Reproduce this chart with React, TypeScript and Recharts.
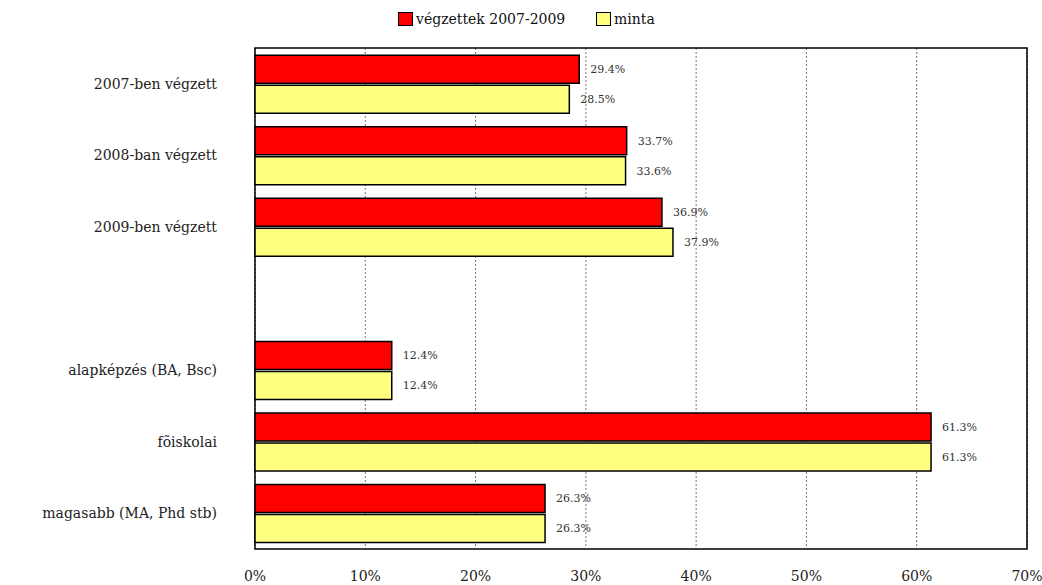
import { BarChart, Bar, XAxis, YAxis, CartesianGrid, LabelList, usePlotArea } from "recharts";

const categories = [
  "2007-ben végzett",
  "2008-ban végzett",
  "2009-ben végzett",
  "",
  "alapképzés (BA, Bsc)",
  "fõiskolai",
  "magasabb (MA, Phd stb)",
];
const vegzettek = [29.4, 33.7, 36.9, null, 12.4, 61.3, 26.3];
const minta = [28.5, 33.6, 37.9, null, 12.4, 61.3, 26.3];
const xTicks = [0, 10, 20, 30, 40, 50, 60, 70];

const FONT = "DejaVu Serif";

const data = categories.map((name, i) => ({ name, vegzettek: vegzettek[i], minta: minta[i] }));

const fmt = (v: any) => (v == null ? "" : `${Number(v).toFixed(1)}%`);

// solid frame round the plot area
function PlotFrame() {
  const area = usePlotArea();
  if (!area) return null;
  return <rect x={area.x} y={area.y} width={area.width} height={area.height} fill="none" stroke="#000" strokeWidth={1.5} />;
}

function LegendBox() {
  const items = [
    { label: "végzettek 2007-2009", color: "#ff0000", width: 198 },
    { label: "minta", color: "#ffff80", width: 100 },
  ];
  return (
    <div
      style={{
        position: "absolute",
        top: 9,
        left: 398,
        display: "flex",
        fontFamily: FONT,
        fontSize: 14,
        color: "#111",
        lineHeight: "20px",
      }}
    >
      {items.map((it) => (
        <div key={it.label} style={{ display: "flex", alignItems: "center", width: it.width }}>
          <span
            style={{
              display: "inline-block",
              width: 13,
              height: 12,
              background: it.color,
              border: "1.5px solid #000",
              marginRight: 3,
            }}
          />
          <span>{it.label}</span>
        </div>
      ))}
    </div>
  );
}

export default function App() {
  return (
    <div style={{ position: "absolute", left: 0, top: 0, width: 1042, height: 585, background: "#fff" }}>
      <BarChart
        width={1042}
        height={585}
        data={data}
        layout="vertical"
        margin={{ top: 48, right: 15, left: 0, bottom: 0 }}
        barCategoryGap="10%"
        barGap={2}
      >
        <CartesianGrid horizontal={false} strokeDasharray="2 2" stroke="#777" />
        <XAxis
          type="number"
          domain={[0, 70]}
          ticks={xTicks}
          tickFormatter={(v) => `${v}%`}
          height={36}
          tickLine={false}
          tickSize={6}
          tickMargin={16}
          axisLine={false}
          tick={{ fontSize: 14, fill: "#222", fontFamily: FONT }}
        />
        <YAxis
          type="category"
          dataKey="name"
          width={255}
          tickLine={false}
          tickSize={6}
          tickMargin={32}
          axisLine={false}
          tick={{ fontSize: 14, fill: "#222", fontFamily: FONT }}
        />
        <Bar dataKey="vegzettek" name="végzettek 2007-2009" fill="#ff0000" stroke="#000" strokeWidth={1.5} isAnimationActive={false}>
          <LabelList dataKey="vegzettek" position="right" offset={11} formatter={fmt} fill="#333" fontSize={11} fontFamily={FONT} />
        </Bar>
        <Bar dataKey="minta" name="minta" fill="#ffff80" stroke="#000" strokeWidth={1.5} isAnimationActive={false}>
          <LabelList dataKey="minta" position="right" offset={11} formatter={fmt} fill="#333" fontSize={11} fontFamily={FONT} />
        </Bar>
        <PlotFrame />
      </BarChart>
      <LegendBox />
    </div>
  );
}
